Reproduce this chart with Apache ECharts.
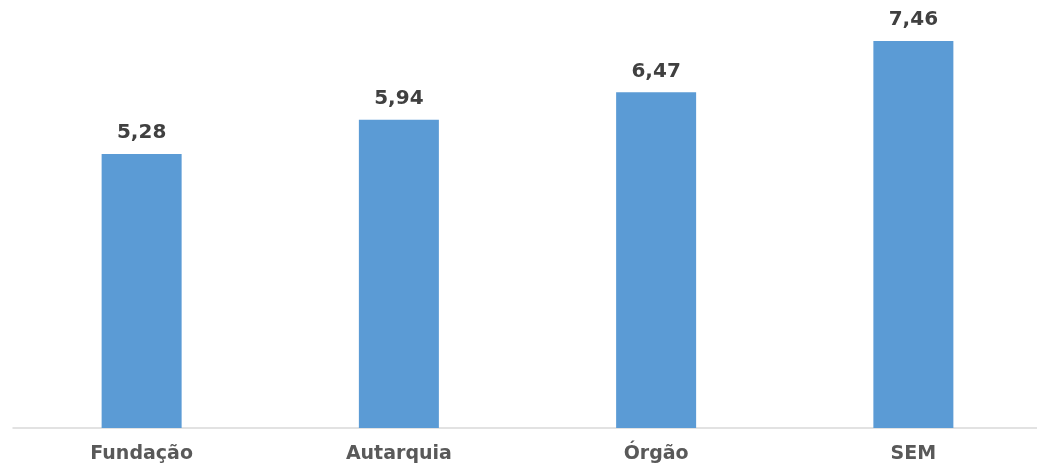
<!DOCTYPE html>
<html>
<head>
<meta charset="utf-8">
<script src="https://cdn.jsdelivr.net/npm/echarts@6/dist/echarts.min.js"></script>
<style>
  html, body { margin: 0; padding: 0; background: #ffffff; }
  #chart { width: 1037px; height: 467px; }
</style>
</head>
<body>
<div id="chart"></div>
<script>
// Average value by type of entity
const categories = ['Fundação', 'Autarquia', 'Órgão', 'SEM'];
const values = [5.28, 5.94, 6.47, 7.46];

const chart = echarts.init(document.getElementById('chart'));
chart.setOption({
  animation: false,
  grid: {
    left: 13, width: 1029, top: 0, bottom: 39,
    containLabel: false,
    outerBoundsMode: 'none'
  },
  xAxis: {
    type: 'category',
    data: categories,
    axisLine: { lineStyle: { color: '#d9d9d9', width: 1.5 } },
    axisTick: { show: false },
    axisLabel: {
      color: '#595959',
      fontFamily: 'DejaVu Sans',
      fontWeight: 'bold',
      fontSize: 19,
      margin: 17
    }
  },
  yAxis: {
    type: 'value',
    min: 0,
    max: 8.25,
    show: false,
    splitLine: { show: false }
  },
  series: [{
    type: 'bar',
    data: values,
    barWidth: 80,
    itemStyle: { color: '#5b9bd5' },
    label: {
      show: true,
      position: 'top',
      distance: 11,
      color: '#404040',
      fontFamily: 'DejaVu Sans',
      fontWeight: 'bold',
      fontSize: 20,
      formatter: p => p.value.toFixed(2).replace('.', ',')
    }
  }]
});
</script>
</body>
</html>
